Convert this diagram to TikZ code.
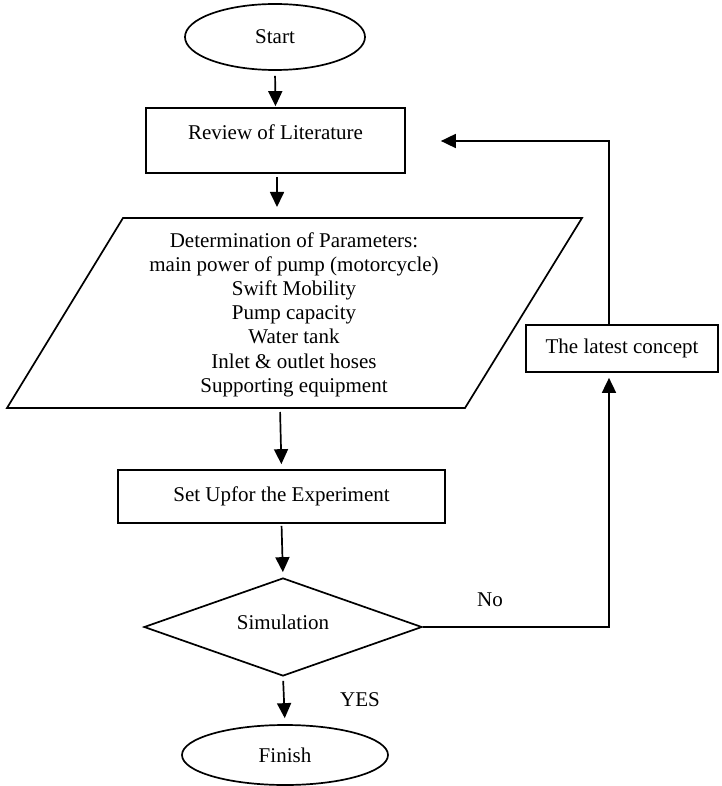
\documentclass[tikz,border=0pt]{standalone}
\usepackage{fontspec}
\setmainfont{Liberation Serif}
\usetikzlibrary{shapes.geometric,arrows.meta}
\begin{document}
\begin{tikzpicture}[x=1pt,y=-1pt,line width=1.7pt,
  font=\fontsize{21}{24.2}\selectfont,
  arr/.style={-{Triangle[length=15pt,width=14pt]}},
  box/.style={draw,rectangle,inner sep=0pt},
  oval/.style={draw,ellipse,inner sep=0pt},
  decision/.style={draw,diamond,shape aspect=2.8,inner sep=0pt},
  lbl/.style={inner sep=0pt}]
\useasboundingbox (0,0) rectangle (721,786);
% nodes
\node[oval,minimum width=180,minimum height=66] (start) at (275,37) {Start};
\node[box,minimum width=259,minimum height=65] (review) at (275.5,140.5) {};
\node[lbl] (reviewtxt) at (275.5,132) {Review of Literature};
\draw (123,218) -- (582,218) -- (465,408) -- (7,408) -- cycle;
\coordinate (ptop) at (277,218);
\coordinate (pbot) at (280,408);
\node[lbl,align=center] (para) at (294,314.5) {Determination of Parameters:\\main power of pump (motorcycle)\\Swift Mobility\\Pump capacity\\Water tank\\Inlet \& outlet hoses\\Supporting equipment};
\node[box,minimum width=327,minimum height=53] (setup) at (281.5,496.5) {Set Upfor the Experiment};
\node[decision,minimum width=278,minimum height=98] (sim) at (283,627) {};
\node[lbl] (simtxt) at (283,622) {Simulation};
\node[oval,minimum width=206,minimum height=60] (finish) at (285,755) {Finish};
\node[box,minimum width=192,minimum height=47] (latest) at (622,348.5) {The latest concept};
\node[lbl] (no) at (490,600) {No};
\node[lbl] (yes) at (360,700) {YES};
\coordinate (nocorner) at (609,627);
\coordinate (fbcorner) at (609,141);
% connectors
\draw[arr,shorten <=5pt,shorten >=1pt] (start.south) -- (review.north);
\draw[arr,shorten <=3pt,shorten >=11pt] (review.south -| ptop) -- (ptop);
\draw[arr,shorten <=4pt,shorten >=5pt] (pbot) -- (setup.north);
\draw[arr,shorten <=2pt,shorten >=5pt] (setup.south) -- (sim.north);
\draw[arr,shorten <=4pt,shorten >=6pt] (sim.south) -- (finish.north);
\draw[arr,shorten >=5pt] (sim.east) -- (nocorner) -- (nocorner |- latest.south);
\draw[arr,shorten >=35pt] (fbcorner |- latest.north) -- (fbcorner) -- (fbcorner -| review.east);
\end{tikzpicture}
\end{document}
